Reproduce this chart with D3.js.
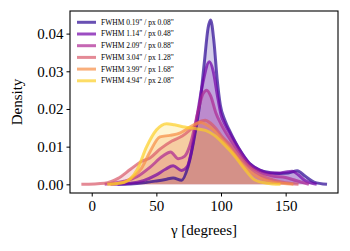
<!DOCTYPE html>
<html>
<head>
<meta charset="utf-8">
<script src="https://cdn.jsdelivr.net/npm/d3@7"></script>
<style>
  body { margin: 0; background: #fff; }
  text { font-family: "Liberation Serif", "Times New Roman", serif; }
</style>
</head>
<body>
<script>
// 数据
const fwhm = ["0.19", "1.14", "2.09", "3.04", "3.99", "4.94"];
const pxSize = ["0.08", "0.48", "0.88", "1.28", "1.68", "2.08"];

const gamma0 = [20, 30, 40, 50, 57, 63, 69.5, 74.5, 80, 84, 87, 90, 92, 94.5, 97, 99.5, 103, 107, 114.6, 122, 130, 138, 145, 152, 159, 165, 172, 182];
const dens0 = [0, 0.0001, 0.0004, 0.0009, 0.0013, 0.0017, 0.0011, 0.0047, 0.0136, 0.0224, 0.032, 0.0415, 0.0436, 0.038, 0.028, 0.021, 0.017, 0.014, 0.0091, 0.0056, 0.0038, 0.0031, 0.0029, 0.003, 0.0036, 0.0022, 0.0006, 0];

const gamma1 = [15, 30, 40, 50, 57, 63, 69.5, 74, 77, 81, 86, 91, 94, 97, 100, 103, 107, 115, 122, 130, 138, 145, 150, 155, 160, 165, 174];
const dens1 = [0, 0.0003, 0.001, 0.0025, 0.004, 0.0049, 0.0037, 0.0048, 0.0085, 0.017, 0.027, 0.0325, 0.030, 0.024, 0.0185, 0.016, 0.0135, 0.0088, 0.0055, 0.0038, 0.003, 0.003, 0.0033, 0.0035, 0.0025, 0.001, 0];

const gamma2 = [10, 25, 35, 45, 55, 61, 67, 72, 77, 82, 86, 89, 92, 96, 100, 107, 115, 122, 130, 140, 150, 158, 168];
const dens2 = [0, 0.0008, 0.002, 0.0045, 0.0075, 0.0086, 0.0068, 0.0075, 0.0115, 0.019, 0.024, 0.025, 0.0235, 0.019, 0.016, 0.012, 0.008, 0.005, 0.0032, 0.0022, 0.0018, 0.001, 0];

const gamma3 = [-8, 10, 20, 30, 38, 45, 53, 62, 70, 78, 85, 88, 92, 96, 100, 107, 115, 122, 130, 140, 150, 160];
const dens3 = [0, 0.0003, 0.0015, 0.004, 0.006, 0.007, 0.0094, 0.0115, 0.0128, 0.015, 0.0168, 0.017, 0.0162, 0.0148, 0.013, 0.0105, 0.007, 0.0045, 0.0025, 0.0012, 0.0004, 0];

const gamma4 = [14, 25, 32, 38.6, 45, 52.8, 60.5, 68, 75, 80, 84, 88, 95, 100, 107, 115, 122, 130, 140, 156];
const dens4 = [0, 0.0006, 0.002, 0.0043, 0.0086, 0.0126, 0.013, 0.0136, 0.015, 0.016, 0.0164, 0.016, 0.0142, 0.0122, 0.0095, 0.006, 0.0035, 0.0017, 0.0006, 0];

const gamma5 = [12, 25, 30, 35, 42.5, 50, 58, 64, 72, 80, 88, 95, 103, 110, 118, 126, 135, 146];
const dens5 = [0, 0.0005, 0.0015, 0.0038, 0.01, 0.0144, 0.0161, 0.0158, 0.0152, 0.0148, 0.0143, 0.013, 0.0104, 0.0078, 0.0042, 0.0012, 0.0003, 0];

const xTicks = [0, 50, 100, 150];
const yTicks = [0, 0.01, 0.02, 0.03, 0.04];

const gammas = [gamma0, gamma1, gamma2, gamma3, gamma4, gamma5];
const denss = [dens0, dens1, dens2, dens3, dens4, dens5];
const series = fwhm.map((f, i) => ({
    label: `FWHM ${f}" / px ${pxSize[i]}"`,
    color: d3.interpolatePlasma(0.05 + i * 0.17),
    points: gammas[i].map((g, j) => ({ g: g, d: denss[i][j] }))
}));

const width = 350, height = 251;
const margin = { left: 70, right: 12, top: 11, bottom: 58 };
const font = '"Liberation Serif", "Times New Roman", serif';

const svg = d3.select("body").append("svg")
    .attr("width", width)
    .attr("height", height);

const x = d3.scaleLinear()
    .domain([-16.8, 190.5])
    .range([margin.left, width - margin.right]);
const y = d3.scaleLinear()
    .domain([-0.0023, 0.046])
    .range([height - margin.bottom, margin.top]);

svg.append("defs").append("clipPath")
    .attr("id", "clip")
    .append("rect")
    .attr("x", margin.left)
    .attr("y", margin.top)
    .attr("width", width - margin.left - margin.right)
    .attr("height", height - margin.top - margin.bottom);

const area = d3.area()
    .x((d) => x(d.g))
    .y0(y(0))
    .y1((d) => y(d.d))
    .curve(d3.curveMonotoneX);
const line = d3.line()
    .x((d) => x(d.g))
    .y((d) => y(d.d))
    .curve(d3.curveMonotoneX);

const body = svg.append("g").attr("clip-path", "url(#clip)");

//填充
body.selectAll(".fill")
    .data(series)
    .enter()
    .append("path")
    .attr("class", "fill")
    .attr("d", (d) => area(d.points))
    .attr("fill", (d) => d.color)
    .attr("fill-opacity", 0.2)
    .attr("stroke", "none");

//曲线
body.selectAll(".kde")
    .data(series)
    .enter()
    .append("path")
    .attr("class", "kde")
    .attr("d", (d) => line(d.points))
    .attr("fill", "none")
    .attr("stroke", (d) => d.color)
    .attr("stroke-opacity", 0.7)
    .attr("stroke-width", 3)
    .attr("stroke-linejoin", "round");

//坐标轴
const xAxis = svg.append("g")
    .attr("transform", `translate(0,${height - margin.bottom})`)
    .call(d3.axisBottom(x).tickValues(xTicks).tickSize(3.5).tickPadding(3.5).tickFormat(d3.format("d")));
const yAxis = svg.append("g")
    .attr("transform", `translate(${margin.left},0)`)
    .call(d3.axisLeft(y).tickValues(yTicks).tickSize(3.5).tickPadding(3).tickFormat(d3.format(".2f")));
[xAxis, yAxis].forEach((a) => {
    a.attr("font-family", font).attr("font-size", 15);
    a.select(".domain").remove();
    a.selectAll("line").attr("stroke", "#000").attr("stroke-width", 1);
    a.selectAll("text").attr("fill", "#000");
});

//边框
svg.append("rect")
    .attr("x", margin.left)
    .attr("y", margin.top)
    .attr("width", width - margin.left - margin.right)
    .attr("height", height - margin.top - margin.bottom)
    .attr("fill", "none")
    .attr("stroke", "#000")
    .attr("stroke-width", 1.1);

//标签
svg.append("text")
    .attr("x", (margin.left + width - margin.right) / 2)
    .attr("y", 235)
    .attr("text-anchor", "middle")
    .style("font-size", "15px")
    .text("γ [degrees]");
svg.append("text")
    .attr("transform", `translate(22,${(margin.top + height - margin.bottom) / 2}) rotate(-90)`)
    .attr("text-anchor", "middle")
    .style("font-size", "15px")
    .text("Density");

//图例
const legend = svg.append("g").attr("class", "legend");
const rows = legend.selectAll(".row")
    .data(series)
    .enter()
    .append("g")
    .attr("class", "row")
    .attr("transform", (d, i) => `translate(77,${22.3 + i * 11.7})`);
rows.append("line")
    .attr("x1", 0)
    .attr("x2", 19)
    .attr("stroke", (d) => d.color)
    .attr("stroke-opacity", 0.7)
    .attr("stroke-width", 3);
rows.append("text")
    .attr("x", 24)
    .attr("dy", "0.33em")
    .style("font-size", "7.5px")
    .text((d) => d.label);
</script>
</body>
</html>
